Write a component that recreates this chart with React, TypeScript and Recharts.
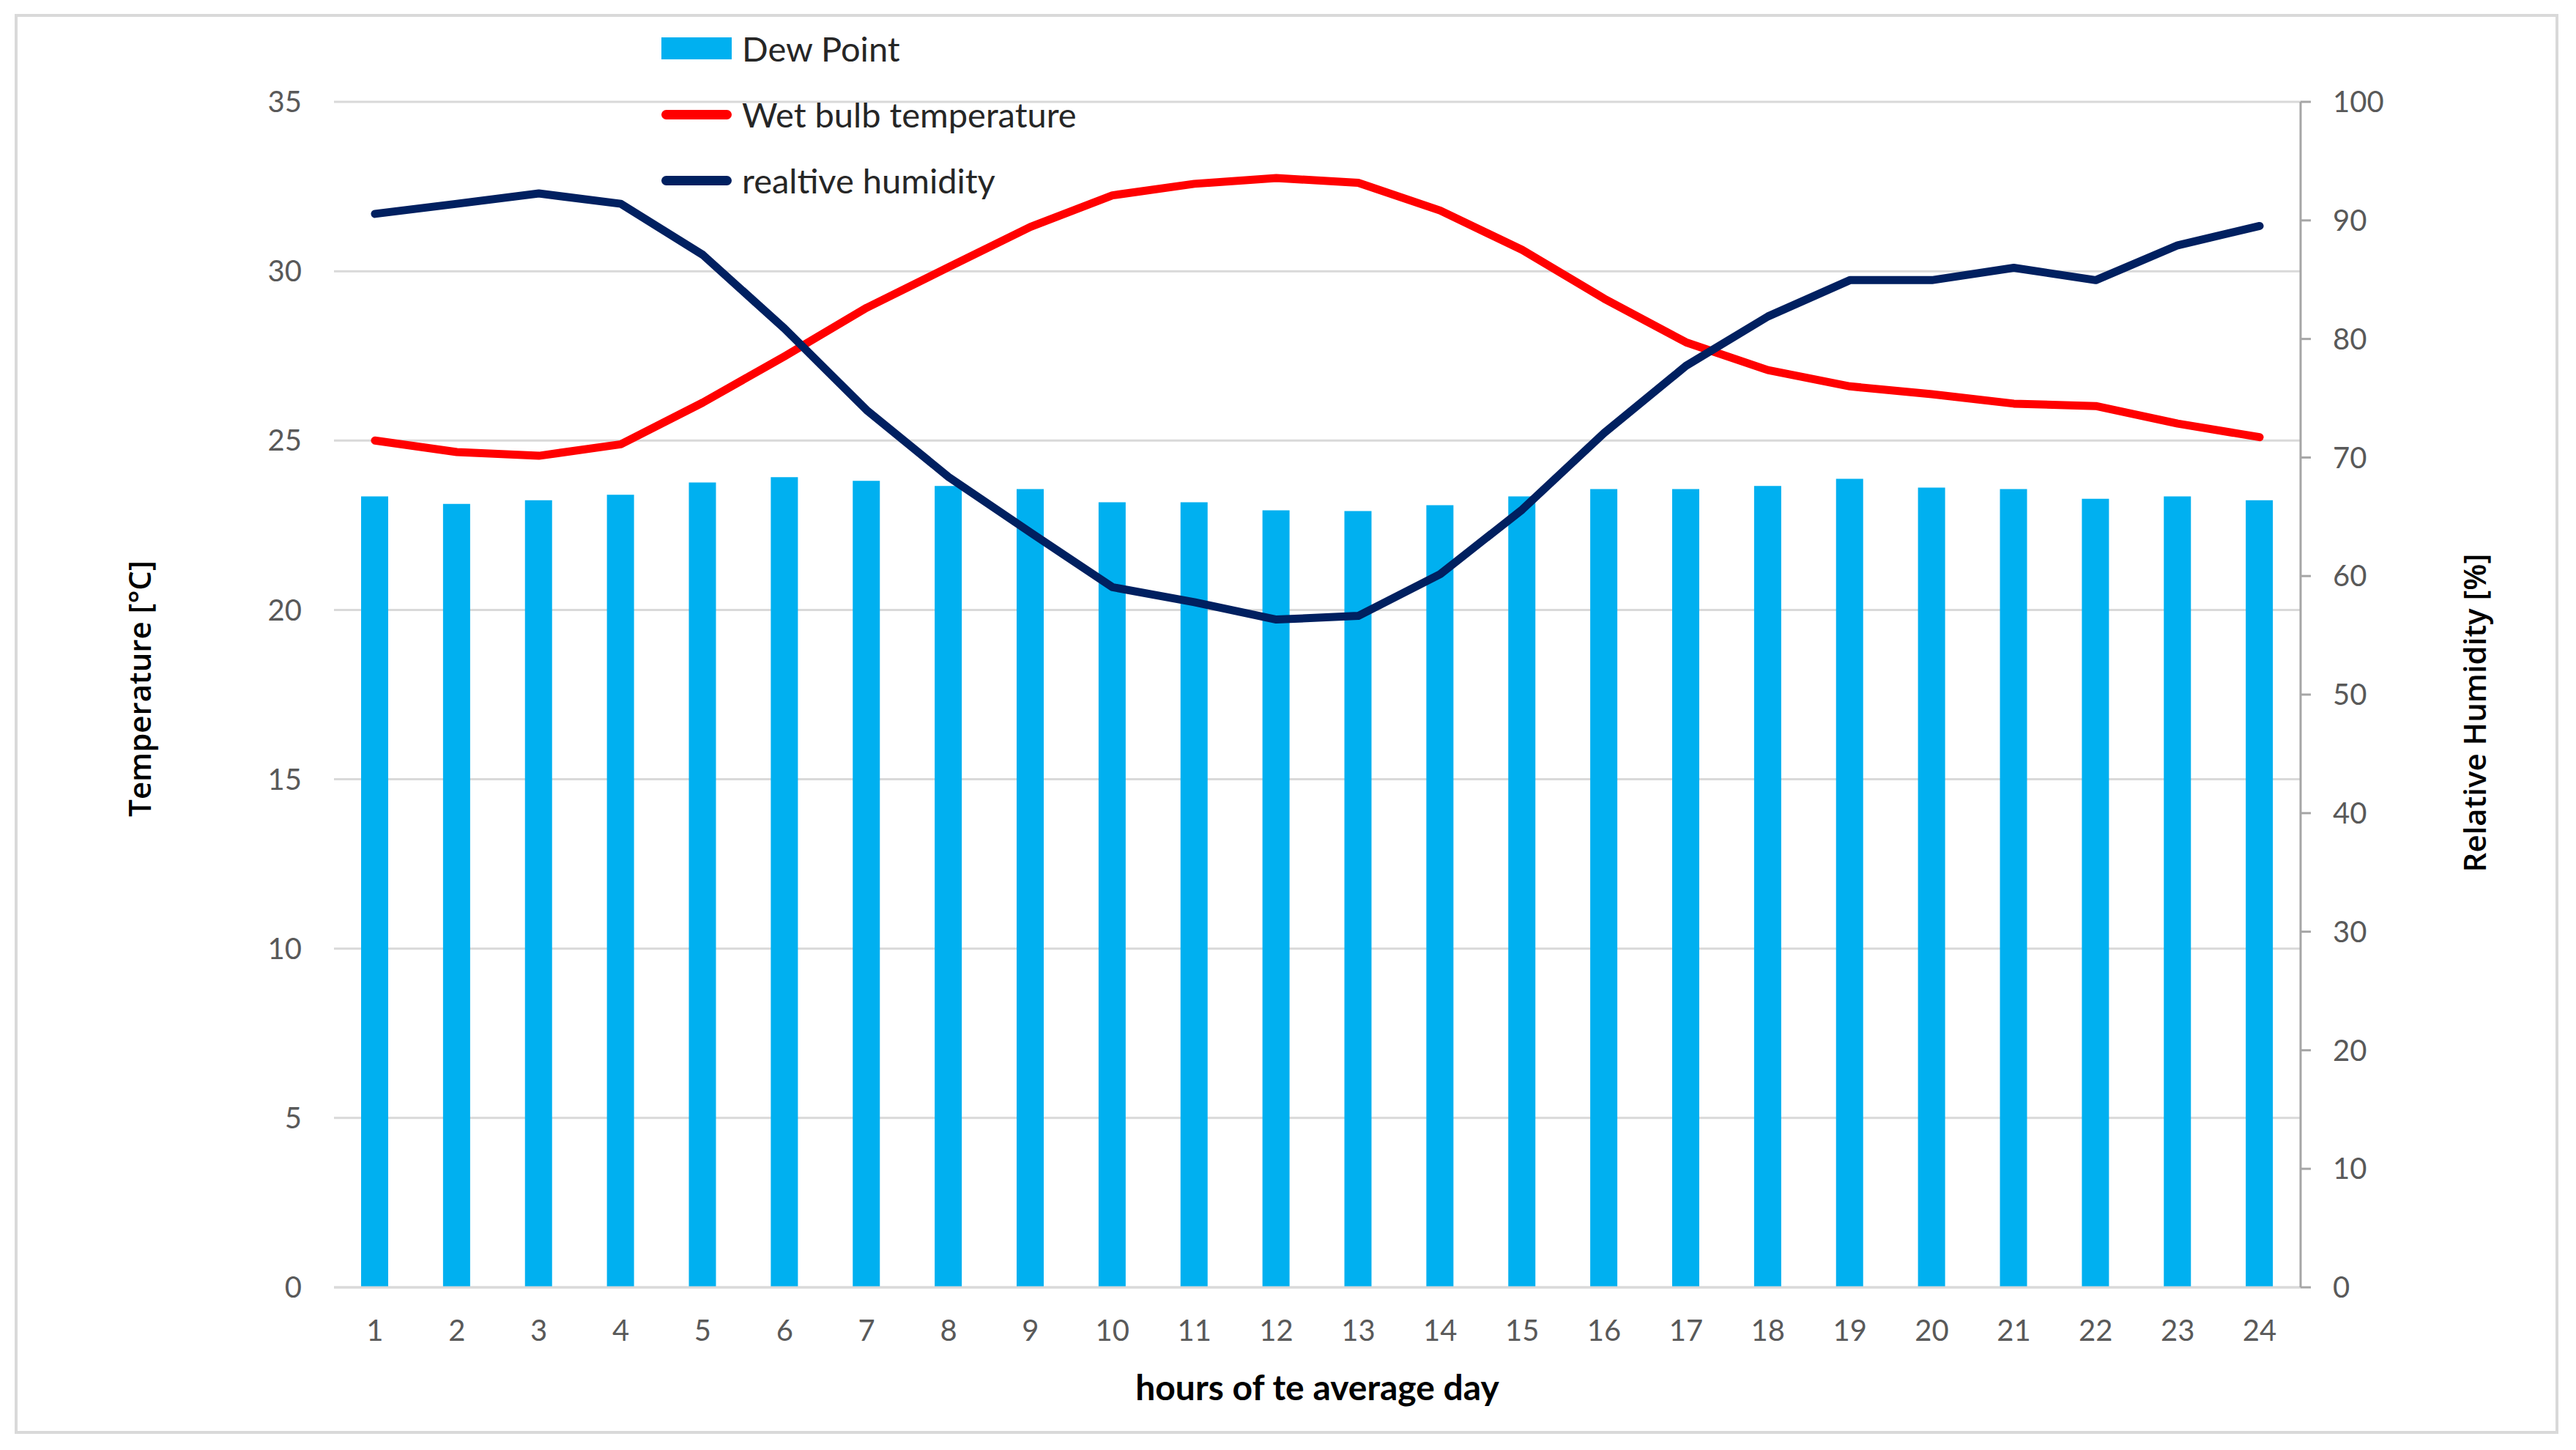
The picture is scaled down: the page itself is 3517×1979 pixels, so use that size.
import React from 'react';
import { ComposedChart, Bar, Line, XAxis, YAxis, CartesianGrid, Legend, Label } from 'recharts';

const hours = ['1','2','3','4','5','6','7','8','9','10','11','12','13','14','15','16','17','18','19','20','21','22','23','24'];
const dewPoint = [23.35, 23.13, 23.24, 23.4, 23.76, 23.92, 23.81, 23.66, 23.57, 23.18, 23.18, 22.94, 22.92, 23.09, 23.35, 23.57, 23.57, 23.66, 23.87, 23.61, 23.57, 23.28, 23.35, 23.24];
const wetBulb = [25.0, 24.66, 24.55, 24.89, 26.12, 27.49, 28.92, 30.12, 31.31, 32.24, 32.58, 32.75, 32.61, 31.79, 30.63, 29.19, 27.9, 27.08, 26.6, 26.37, 26.09, 26.02, 25.5, 25.1];
const relHumidity = [90.55, 91.4, 92.27, 91.4, 87.1, 80.86, 74.0, 68.36, 63.67, 59.06, 57.8, 56.33, 56.64, 60.16, 65.6, 72.07, 77.73, 81.9, 84.96, 84.96, 86.0, 84.96, 87.9, 89.53];
const tempTicks = [0, 5, 10, 15, 20, 25, 30, 35];
const rhTicks = [0, 10, 20, 30, 40, 50, 60, 70, 80, 90, 100];

const data = hours.map((h, i) => ({ hour: h, dew: dewPoint[i], wet: wetBulb[i], rh: relHumidity[i] }));

const TICK_FONT = 'Lato, "Open Sans", sans-serif';
const TITLE_FONT = '"Open Sans", "DejaVu Sans", sans-serif';

function LegendContent(props: any) {
  const payload = props.payload || [];
  return (
    <div style={{ display: 'flex', flexDirection: 'column', fontFamily: TICK_FONT, fontSize: 47, color: '#262626' }}>
      {payload.map((entry: any) => (
        <div key={entry.value} style={{ height: 90, display: 'flex', alignItems: 'center' }}>
          {entry.type === 'rect' ? (
            <div style={{ width: 96, height: 30, background: entry.color }} />
          ) : (
            <div style={{ width: 96, height: 13, borderRadius: 7, background: entry.color }} />
          )}
          <span style={{ marginLeft: 14, whiteSpace: 'nowrap' }}>{entry.value}</span>
        </div>
      ))}
    </div>
  );
}

export default function App() {
  return (
    <div style={{ position: 'absolute', left: 0, top: 0, width: 3517, height: 1979, background: '#fff' }}>
      <div style={{ position: 'absolute', left: 20, top: 19, width: 3465, height: 1930, border: '4px solid #d9d9d9' }} />
      <div style={{ position: 'absolute', left: 0, top: 0 }}>
        <ComposedChart width={3517} height={1979} data={data} margin={{ top: 139, right: 276, bottom: 162, left: 356 }}>
          <CartesianGrid yAxisId="left" vertical={false} stroke="#d9d9d9" strokeWidth={3} />
          <XAxis
            dataKey="hour"
            height={60}
            tickLine={false}
            tickSize={6}
            tickMargin={39}
            axisLine={{ stroke: '#d9d9d9', strokeWidth: 3 }}
            tick={{ fill: '#595959', fontSize: 40, fontFamily: TICK_FONT }}
            interval={0}
          >
            <Label
              content={(p: any) => {
                const vb = p.viewBox || {};
                return (
                  <text x={vb.x + vb.width / 2} y={vb.y + 135} textAnchor="middle" dominantBaseline="central"
                    style={{ fontFamily: TICK_FONT, fontSize: 48, fontWeight: 700, fill: '#000' }}>
                    hours of te average day
                  </text>
                );
              }}
            />
          </XAxis>
          <YAxis
            yAxisId="left"
            orientation="left"
            width={100}
            domain={[0, 35]}
            ticks={tempTicks}
            axisLine={false}
            tickLine={false}
            tickSize={6}
            tickMargin={38}
            tick={{ fill: '#595959', fontSize: 40, fontFamily: TICK_FONT }}
          >
            <Label
              content={(p: any) => {
                const vb = p.viewBox || {};
                const cx = vb.x - 167;
                const cy = vb.y + vb.height / 2 - 8;
                return (
                  <text x={cx} y={cy} textAnchor="middle" dominantBaseline="central" transform={`rotate(-90, ${cx}, ${cy})`}
                    style={{ fontFamily: TITLE_FONT, fontSize: 42, fontWeight: 600, fill: '#000' }}>
                    Temperature [°C]
                  </text>
                );
              }}
            />
          </YAxis>
          <YAxis
            yAxisId="right"
            orientation="right"
            width={100}
            domain={[0, 100]}
            ticks={rhTicks}
            axisLine={{ stroke: '#a6a6a6', strokeWidth: 3 }}
            tickLine={{ stroke: '#a6a6a6', strokeWidth: 3 }}
            tickSize={14}
            tickMargin={30}
            tick={{ fill: '#595959', fontSize: 40, fontFamily: TICK_FONT }}
          >
            <Label
              content={(p: any) => {
                const vb = p.viewBox || {};
                const cx = vb.x + 236;
                const cy = vb.y + vb.height / 2 + 25;
                return (
                  <text x={cx} y={cy} textAnchor="middle" dominantBaseline="central" transform={`rotate(-90, ${cx}, ${cy})`}
                    style={{ fontFamily: TITLE_FONT, fontSize: 42, fontWeight: 600, fill: '#000' }}>
                    Relative Humidity [%]
                  </text>
                );
              }}
            />
          </YAxis>
          <Legend
            layout="vertical"
            align="center"
            verticalAlign="middle"
            wrapperStyle={{ left: 903, top: 21, width: 'auto', height: 'auto' }}
            content={<LegendContent />}
          />
          <Bar yAxisId="left" dataKey="dew" name="Dew Point" fill="#00B0F0" barSize={37} isAnimationActive={false} legendType="rect" />
          <Line yAxisId="left" dataKey="wet" name="Wet bulb temperature" type="linear" stroke="#FF0000" strokeWidth={11} dot={false} isAnimationActive={false} legendType="line" strokeLinejoin="round" strokeLinecap="round" />
          <Line yAxisId="right" dataKey="rh" name="realtive humidity" type="linear" stroke="#002060" strokeWidth={11} dot={false} isAnimationActive={false} legendType="line" strokeLinejoin="round" strokeLinecap="round" />
        </ComposedChart>
      </div>
    </div>
  );
}
